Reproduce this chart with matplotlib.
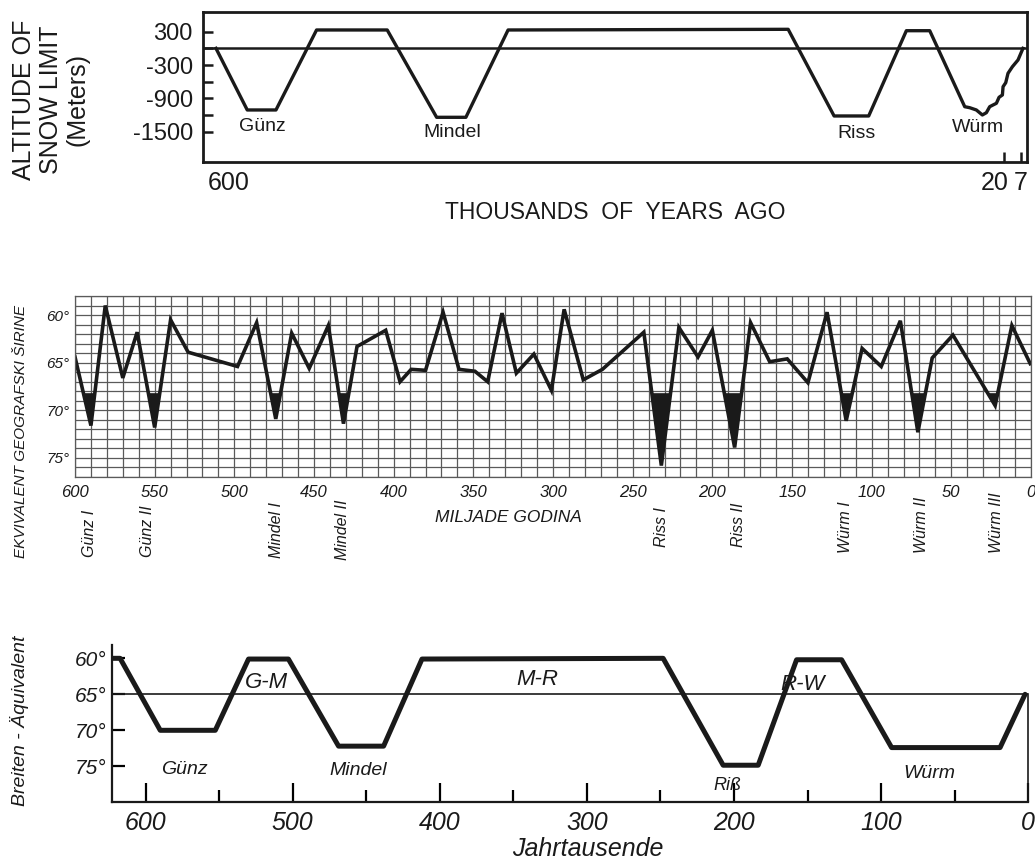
import numpy as np
import matplotlib.pyplot as plt
from matplotlib.transforms import blended_transform_factory, ScaledTranslation

# -----------------------------
# Dados
# -----------------------------
# painel de cima: limite de neve (m) x milhares de anos
top_t = [609.7, 586.3, 564.8, 534.4, 481.5, 444.5, 422.6, 391, 181.3, 146.9,
         121, 92.8, 75.3, 49.1, 45.4, 40.4, 35.9, 32.9, 30.4, 27.9,
         25.4, 23.4, 20.9, 20.4, 18.4, 16.7, 13.4, 9.2, 5.5]
top_m = [0, -1109, -1109, 331, 331, -1241, -1241, 331, 343, -1217,
         -1217, 318, 318, -1050, -1068, -1109, -1199, -1158, -1050, -1019,
         -989, -881, -839, -690, -618, -449, -330, -209, 0]
top_yticks = [300, 0, -300, -600, -900, -1200, -1500]
top_ylabels = ["300", "", "-300", "", "-900", "", "-1500"]
top_xticks = [600, 20, 7]
top_names = ["Günz", "Mindel", "Riss", "Würm"]
top_name_t = [575.3, 432.6, 130.2, 39.1]
top_name_m = [-1410, -1518, -1529, -1428]

# painel do meio: latitude equivalente
mid_t = [600, 590, 581, 570, 561, 550, 540, 529, 498, 486,
         474, 464, 453, 441, 431.5, 423, 405, 396, 389, 380,
         369, 359, 349, 341, 332, 323, 312, 301, 293, 281,
         269, 243, 232, 221, 209, 200, 186, 176, 164, 153,
         140, 128, 116, 106, 94, 82, 71, 62, 49, 22.5,
         12, 0.5]
mid_lat = [64.4, 71.6, 59.0, 66.6, 61.8, 71.8, 60.5, 63.9, 65.4, 60.8,
           70.9, 61.9, 65.6, 61.1, 71.4, 63.3, 61.6, 67.0, 65.7, 65.8,
           59.7, 65.7, 65.9, 67.0, 59.8, 66.1, 64.1, 67.9, 59.4, 66.8,
           65.7, 61.8, 75.8, 61.3, 64.4, 61.6, 73.9, 60.8, 64.9, 64.6,
           67.1, 59.7, 71.1, 63.5, 65.4, 60.6, 72.3, 64.5, 62.1, 69.5,
           61.1, 65.1]
mid_fill_level = 68.2
mid_names = ["Günz I", "Günz II", "Mindel I", "Mindel II", "Riss I",
             "Riss II", "Würm I", "Würm II", "Würm III"]
mid_name_t = [591.2, 554.5, 473.4, 432.1, 232.1, 183.6, 116.6, 68.5, 21.4]
mid_name_ypx = [557, 557, 558, 560, 547, 547, 553, 553, 553]

# painel de baixo: Breiten-Äquivalent
bot_t = [623, 617.3, 590, 552.6, 530, 502.9, 468.8, 438.2, 412.1,
         248.2, 207.4, 183.6, 157.5, 126.9, 92.9, 19.2, 2.2]
bot_lat = [60, 60, 70, 70, 60.1, 60.1, 72.2, 72.2, 60.1,
           60.0, 74.85, 74.85, 60.2, 60.2, 72.4, 72.4, 65.0]
bot_names = ["G-M", "M-R", "R-W", "Günz", "Mindel", "Riß", "Würm"]
bot_name_t = [517.7, 334, 153.3, 573.3, 455.4, 204.8, 67.6]
bot_name_lat = [63.4, 62.9, 63.7, 75.5, 75.65, 77.65, 76.0]
bot_name_size = [16, 16, 16, 14, 14, 13, 14]

# -----------------------------
# Layout (pixels da figura 1035x861)
# -----------------------------
W, H = 1035, 861


def rect(left, top, right, bottom):
    return [left / W, 1 - bottom / H, (right - left) / W, (bottom - top) / H]


plt.rcParams['font.family'] = ['Liberation Sans', 'DejaVu Sans']
fig = plt.figure(figsize=(W / 100, H / 100), dpi=100)

# ---------- painel de cima ----------
ax1 = fig.add_axes(rect(203.3, 11.7, 1026.7, 162.3))
ax1.plot(top_t, top_m, color="#1a1a1a", lw=2.4, solid_joinstyle="round")
ax1.axhline(0, color="#1a1a1a", lw=1.8)
ax1.set_xlim(619.2, 2.7)
ax1.set_ylim(-2051, 660)
for s in ax1.spines.values():
    s.set_linewidth(2.0)
    s.set_color("#1a1a1a")
ax1.set_yticks(top_yticks)
ax1.set_yticklabels(top_ylabels)
ax1.set_xticks(top_xticks)
ax1.set_xticklabels([str(v) for v in top_xticks])
ax1.tick_params(axis="y", direction="in", length=7.5, width=1.8,
                labelsize=17, pad=7.5, colors="#1a1a1a")
ax1.tick_params(axis="x", direction="in", length=7.5, width=1.8,
                labelsize=18, pad=6, colors="#1a1a1a")
xt = ax1.xaxis.get_major_ticks()
xt[0].tick1line.set_visible(False)
# no original o "20" fica um pouco à esquerda da sua marca
lab20 = xt[1].label1
lab20.set_transform(lab20.get_transform() + ScaledTranslation(-9 / 100, 0, fig.dpi_scale_trans))
for name, t, m in zip(top_names, top_name_t, top_name_m):
    ax1.text(t, m, name, fontsize=14, ha="center", va="center", color="#1a1a1a")

fig.text(51 / W, 1 - 100 / H, "ALTITUDE OF\nSNOW LIMIT\n(Meters)", rotation=90,
         ha="center", va="center", multialignment="center", fontsize=18,
         linespacing=1.15, color="#1a1a1a")
fig.text(615 / W, 1 - 212.5 / H, "THOUSANDS  OF  YEARS  AGO", ha="center",
         va="center", fontsize=16.5, color="#1a1a1a")

# ---------- painel do meio ----------
ax2 = fig.add_axes(rect(75, 296, 1031, 477))
ax2.set_xlim(600, 0)
ax2.set_ylim(77, 58)
ax2.set_xticks(np.arange(0, 601, 50))
ax2.set_xticks(np.arange(0, 601, 10), minor=True)
ax2.set_yticks([60, 65, 70, 75])
ax2.set_yticks(np.arange(58, 78, 1), minor=True)
ax2.set_xticklabels([str(v) for v in np.arange(0, 601, 50)])
ax2.set_yticklabels(["60°", "65°", "70°", "75°"])
ax2.grid(which="both", color="#5a5a5a", lw=0.9)
ax2.set_axisbelow(True)
ax2.tick_params(which="both", length=0)
ax2.tick_params(axis="x", labelsize=12, pad=6)
ax2.tick_params(axis="y", labelsize=11, pad=4)
for lab in ax2.get_xticklabels() + ax2.get_yticklabels():
    lab.set_fontstyle("italic")
    lab.set_color("#1a1a1a")
for s in ax2.spines.values():
    s.set_linewidth(0.9)
    s.set_color("#5a5a5a")

lat = np.array(mid_lat)
ax2.fill_between(mid_t, lat, mid_fill_level, where=lat > mid_fill_level,
                 interpolate=True, color="#1a1a1a", lw=0)
ax2.plot(mid_t, mid_lat, color="#1a1a1a", lw=2.6, solid_joinstyle="miter")

tr2 = blended_transform_factory(ax2.transData, fig.transFigure)
for name, t, ypx in zip(mid_names, mid_name_t, mid_name_ypx):
    ax2.text(t, 1 - ypx / H, name, transform=tr2, rotation=90, ha="center",
             va="bottom", fontsize=11.5, style="italic", color="#1a1a1a")

fig.text(508 / W, 1 - 517 / H, "MILJADE GODINA", ha="center", va="center",
         fontsize=12.5, style="italic", color="#1a1a1a")
fig.text(21 / W, 1 - 432 / H, "EKVIVALENT GEOGRAFSKI ŠIRINE", rotation=90,
         ha="center", va="center", fontsize=11, style="italic", color="#1a1a1a")

# ---------- painel de baixo ----------
ax3 = fig.add_axes(rect(111.7, 645, 1028.3, 802.3))
ax3.set_xlim(623, 0)
ax3.set_ylim(80, 58.15)
ax3.plot(bot_t, bot_lat, color="#1a1a1a", lw=3.6, solid_joinstyle="round",
         solid_capstyle="round")
ax3.axhline(65, color="#1a1a1a", lw=1.2)
ax3.spines["top"].set_visible(False)
ax3.spines["right"].set_bounds(65, 80)
for s in ax3.spines.values():
    s.set_linewidth(1.6)
    s.set_color("#1a1a1a")
ax3.spines["right"].set_linewidth(1.2)
ax3.set_xticks(np.arange(0, 601, 100))
ax3.set_xticks(np.arange(50, 600, 100), minor=True)
ax3.set_xticklabels([str(v) for v in np.arange(0, 601, 100)])
ax3.set_yticks([60, 65, 70, 75])
ax3.set_yticklabels(["60°", "65°", "70°", "75°"])
ax3.tick_params(axis="x", which="major", direction="in", length=13.5,
                width=1.6, labelsize=18, pad=6)
ax3.tick_params(axis="x", which="minor", direction="in", length=8.5, width=1.6)
ax3.tick_params(axis="y", direction="in", length=9, width=1.6, labelsize=15,
                pad=4)
for lab in ax3.get_xticklabels() + ax3.get_yticklabels():
    lab.set_fontstyle("italic")
    lab.set_color("#1a1a1a")
for name, t, la, fs in zip(bot_names, bot_name_t, bot_name_lat, bot_name_size):
    ax3.text(t, la, name, fontsize=fs, ha="center", va="center",
             style="italic", color="#1a1a1a")

fig.text(588 / W, 1 - 849 / H, "Jahrtausende", ha="center", va="center",
         fontsize=18, style="italic", color="#1a1a1a")
fig.text(20 / W, 1 - 721 / H, "Breiten - Äquivalent", rotation=90, ha="center",
         va="center", fontsize=14, style="italic", color="#1a1a1a")

fig.savefig("out.png", dpi=100)
